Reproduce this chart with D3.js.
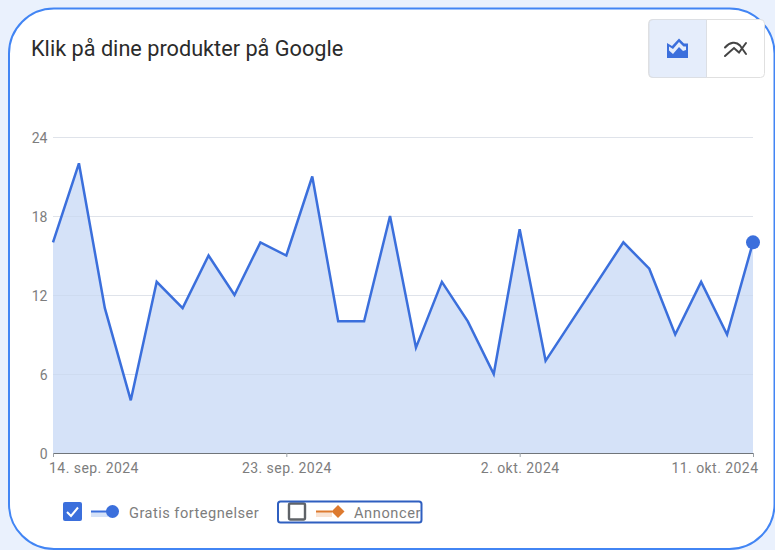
<!DOCTYPE html>
<html><head><meta charset="utf-8">
<script src="https://cdnjs.cloudflare.com/ajax/libs/d3/7.8.5/d3.min.js"></script>
<style>html,body{margin:0;padding:0;background:#eaf1fd;overflow:hidden}svg{display:block}text{font-family:Roboto,sans-serif}</style>
</head><body><svg id="c" width="775" height="550"></svg>
<script>
const titleText = "Klik på dine produkter på Google";
const dates = ["2024-09-14","2024-09-15","2024-09-16","2024-09-17","2024-09-18","2024-09-19","2024-09-20","2024-09-21","2024-09-22","2024-09-23","2024-09-24","2024-09-25","2024-09-26","2024-09-27","2024-09-28","2024-09-29","2024-09-30","2024-10-01","2024-10-02","2024-10-03","2024-10-04","2024-10-05","2024-10-06","2024-10-07","2024-10-08","2024-10-09","2024-10-10","2024-10-11"];
const clicks = [16,22,11,4,13,11,15,12,16,15,21,10,10,18,8,13,10,6,17,7,10,13,16,14,9,13,9,16];
const yTicks = [0,6,12,18,24];
const xTickDates = ["2024-09-14","2024-09-23","2024-10-02","2024-10-11"];
const xTickLabels = ["14. sep. 2024","23. sep. 2024","2. okt. 2024","11. okt. 2024"];
const legendLabels = ["Gratis fortegnelser","Annoncer"];

const BLUE="#3b6fdc", FILL="#d5e2f8", GREY="#7d7d7d", ORANGE="#dd7a2f", PANEL="#e5edfb";
const svg=d3.select("#c");
svg.append("rect").attr("x",9).attr("y",8.5).attr("width",765.5).attr("height",540.5).attr("rx",45).attr("fill","#fff").attr("stroke","#4285f4").attr("stroke-width",2);

svg.append("text").attr("x",31).attr("y",56).attr("font-size",21.7).attr("fill","#2b2b2b").text(titleText);

const parse=d3.utcParse("%Y-%m-%d");
const x=d3.scaleUtc().domain([parse(dates[0]),parse(dates[dates.length-1])]).range([53,753]);
const y=d3.scaleLinear().domain([0,24]).range([453,137]);
const pts=dates.map((d,i)=>({d:parse(d),v:clicks[i]}));

// toggle
const tg=svg.append("g");
tg.append("rect").attr("x",648.5).attr("y",19.5).attr("width",116).attr("height",58).attr("rx",4).attr("fill","#fff").attr("stroke","#e0e0e0");
tg.append("path").attr("d","M653,19.5H706.5V77.5H653a4,4 0 0 1 -4,-4V23.5a4,4 0 0 1 4,-4Z").attr("fill",PANEL).attr("stroke","#dcdfe4");
tg.append("path").attr("fill",BLUE).attr("d","M667,43 L672,46 L679,38.5 L684,43.5 L688,43.5 L688,58 L667,58 Z");
tg.append("path").attr("fill",PANEL).attr("d","M669,46.5 L673,49 L679,42 L683.5,46.5 L686,46.5 L686,50 L683,51 L679,47 L673,54 L669,50.5 Z");
tg.append("path").attr("fill","none").attr("stroke","#444").attr("stroke-width",2).attr("stroke-linecap","round").attr("d","M725,56 L734,48 L739,52.5 L746,43");
tg.append("path").attr("fill","none").attr("stroke","#444").attr("stroke-width",2).attr("stroke-linecap","round").attr("d","M725,47.5 C730,42 736,41 740,45.5 L746,54");

// grid
svg.append("g").selectAll("line").data(yTicks.filter(t=>t>0)).join("line")
 .attr("x1",53).attr("x2",753).attr("y1",d=>y(d)+.5).attr("y2",d=>y(d)+.5).attr("stroke","#efefef");

const area=d3.area().x(d=>x(d.d)).y0(y(0)).y1(d=>y(d.v));
const line=d3.line().x(d=>x(d.d)).y(d=>y(d.v));
svg.append("path").datum(pts).attr("d",area).attr("fill",FILL);
svg.append("g").selectAll("line").data(yTicks.filter(t=>t>0)).join("line")
 .attr("x1",53).attr("x2",753).attr("y1",d=>y(d)+.5).attr("y2",d=>y(d)+.5).attr("stroke","#c3cfe3").attr("stroke-opacity",.35);
svg.append("path").datum(pts).attr("d",line).attr("fill","none").attr("stroke",BLUE).attr("stroke-width",2.5);
svg.append("circle").attr("cx",x(pts[27].d)).attr("cy",y(pts[27].v)).attr("r",7).attr("fill",BLUE);

// axes
const yAxis=d3.axisLeft(y).tickValues(yTicks).tickSize(0).tickPadding(0);
const gy=svg.append("g").attr("transform","translate(47.5,0)").call(yAxis);
gy.select(".domain").remove();
gy.selectAll("text").attr("font-size",14).attr("fill",GREY).attr("font-family","Roboto,sans-serif").attr("dy","0.36em");

const xAxis=d3.axisBottom(x).tickValues(xTickDates.map(parse)).tickFormat((d,i)=>xTickLabels[i]).tickSize(4).tickPadding(6);
const gx=svg.append("g").attr("transform","translate(0,453)").call(xAxis);
gx.select(".domain").attr("stroke","#70757a").attr("stroke-width",1).attr("d","M53,0.5H753");
gx.selectAll("line").attr("stroke","#9aa0a6");
gx.selectAll("text").attr("font-size",14).attr("fill",GREY).attr("font-family","Roboto,sans-serif").attr("letter-spacing",".45px")
  .attr("text-anchor",(d,i)=>i===0?"start":i===3?"end":"middle")
  .attr("dx",(d,i)=>i===0?-4.5:i===3?5:0);

// legend
const lg=svg.append("g");
lg.append("rect").attr("x",63).attr("y",502).attr("width",19).attr("height",19).attr("rx",2).attr("fill",BLUE);
lg.append("path").attr("d","M67,512 L71,516 L78,507.5").attr("fill","none").attr("stroke","#fff").attr("stroke-width",2);
lg.append("rect").attr("x",91).attr("y",512).attr("width",17).attr("height",5).attr("fill",FILL);
lg.append("line").attr("x1",91).attr("x2",108).attr("y1",511.5).attr("y2",511.5).attr("stroke",BLUE).attr("stroke-width",2);
lg.append("circle").attr("cx",112.5).attr("cy",511.5).attr("r",6.5).attr("fill",BLUE);
lg.append("text").attr("x",129).attr("y",518).attr("font-size",14.6).attr("letter-spacing",".48px").attr("fill",GREY).text(legendLabels[0]);

svg.append("clipPath").attr("id","annClip").append("rect").attr("x",278).attr("y",500).attr("width",143).attr("height",24);
lg.append("rect").attr("x",278).attr("y",501.5).attr("width",143.5).attr("height",21).attr("rx",2.5).attr("fill","#fff");
lg.append("rect").attr("x",289).attr("y",503.5).attr("width",16).attr("height",16).attr("rx",1.5).attr("fill","#fff").attr("stroke","#5f6368").attr("stroke-width",2.4);
lg.append("rect").attr("x",316).attr("y",512).attr("width",16).attr("height",5).attr("fill","#f9e3d3");
lg.append("line").attr("x1",316).attr("x2",332).attr("y1",511.5).attr("y2",511.5).attr("stroke",ORANGE).attr("stroke-width",2);
lg.append("path").attr("d","M338,505 L344.5,511.5 L338,518 L331.5,511.5 Z").attr("fill",ORANGE);
lg.append("text").attr("x",354).attr("y",518).attr("font-size",14.6).attr("letter-spacing",".6px").attr("fill",GREY).attr("clip-path","url(#annClip)").text(legendLabels[1]);
lg.append("rect").attr("x",278).attr("y",501.5).attr("width",143.5).attr("height",21).attr("rx",2.5).attr("fill","none").attr("stroke","#2f5fc0").attr("stroke-width",2);
</script></body></html>
